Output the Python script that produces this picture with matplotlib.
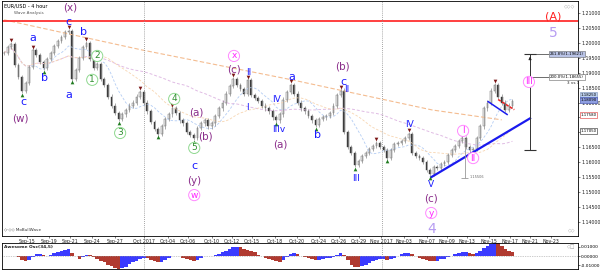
import numpy as np
import pandas as pd
import matplotlib
matplotlib.use('Agg')
import matplotlib.pyplot as plt

# EUR/USD 4 hour, closes sampled every 8 hours (Sep 13 - Nov 16, 2017)
closes = [
    1.1966, 1.1985, 1.1996, 1.1925, 1.1885, 1.1838, 1.1865, 1.1920, 1.1975, 1.1960,
    1.1935, 1.1915, 1.1945, 1.1965, 1.1990, 1.2005, 1.2020, 1.2035, 1.2040, 1.1880,
    1.1910, 1.1950, 1.1985, 1.2000, 1.1945, 1.1915, 1.1930, 1.1880, 1.1860, 1.1820,
    1.1790, 1.1765, 1.1745, 1.1760, 1.1775, 1.1790, 1.1800, 1.1820, 1.1835, 1.1800,
    1.1770, 1.1735, 1.1710, 1.1695, 1.1720, 1.1745, 1.1760, 1.1780, 1.1765, 1.1740,
    1.1730, 1.1700, 1.1690, 1.1680, 1.1715, 1.1730, 1.1740, 1.1720, 1.1730, 1.1755,
    1.1780, 1.1800, 1.1830, 1.1855, 1.1880, 1.1860, 1.1845, 1.1830, 1.1875, 1.1825,
    1.1815, 1.1805, 1.1790, 1.1780, 1.1770, 1.1750, 1.1740, 1.1760, 1.1810, 1.1835,
    1.1860, 1.1830, 1.1800, 1.1780, 1.1770, 1.1755, 1.1740, 1.1725, 1.1745, 1.1750,
    1.1755, 1.1765, 1.1790, 1.1825, 1.1840, 1.1700, 1.1650, 1.1630, 1.1590, 1.1605,
    1.1620, 1.1630, 1.1645, 1.1655, 1.1665, 1.1650, 1.1640, 1.1615, 1.1640, 1.1660,
    1.1665, 1.1670, 1.1680, 1.1695, 1.1630, 1.1620, 1.1615, 1.1600, 1.1575, 1.1560,
    1.1585, 1.1580, 1.1595, 1.1600, 1.1625, 1.1640, 1.1655, 1.1670, 1.1680, 1.1650,
    1.1640, 1.1645, 1.1680, 1.1720, 1.1780, 1.1800, 1.1840, 1.1860, 1.1820, 1.1800,
    1.1775, 1.1790, 1.1805,
]

date_labels = ['Sep-15', 'Sep-19', 'Sep-21', 'Sep-24', 'Sep-27', 'Oct 2017', 'Oct-04',
               'Oct-06', 'Oct-10', 'Oct-12', 'Oct-15', 'Oct-18', 'Oct-20', 'Oct-24',
               'Oct-26', 'Oct-29', 'Nov 2017', 'Nov-03', 'Nov-07', 'Nov-09', 'Nov-13',
               'Nov-15', 'Nov-17', 'Nov-21', 'Nov-23']
date_pos = [6.4, 12.6, 18.4, 24.6, 31.0, 39.1, 45.8, 51.4, 58.1, 63.7, 69.3, 75.7,
            81.8, 88.0, 93.6, 99.2, 105.3, 111.7, 118.2, 123.7, 129.3, 135.5, 141.3,
            146.9, 152.8]
month_lines = [39.1, 105.6]

peak_bars = [2, 8, 18, 23, 38, 47, 64, 68, 80, 94, 104, 113, 128, 137]
trough_bars = [5, 11, 19, 32, 43, 53, 76, 87, 98, 107, 119, 131]

resistance = 1.2073
slow_ma_x = [0, 38.5, 80.4, 119.6, 139]
slow_ma_y = [1.2077, 1.1976, 1.1876, 1.1775, 1.1742]

# wave labels: text, x, price, style
waves = [
    ('(x)', 18.4, 1.2117, 'pur'), ('c', 17.9, 1.2070, 'blu'), ('a', 8.1, 1.2016, 'blu'),
    ('b', 22.3, 1.2036, 'blu'), ('b', 11.2, 1.1882, 'blu'), ('c', 5.3, 1.1802, 'blu'),
    ('(w)', 4.5, 1.1748, 'pur'), ('a', 18.2, 1.1825, 'blu'),
    ('2', 26.0, 1.1956, 'grn'), ('1', 24.6, 1.1876, 'grn'), ('3', 32.4, 1.1698, 'grn'),
    ('4', 47.5, 1.1812, 'grn'), ('(a)', 53.6, 1.1765, 'pur'), ('(b)', 56.1, 1.1685, 'pur'),
    ('5', 53.1, 1.1648, 'grn'), ('c', 53.1, 1.1588, 'blu'), ('(y)', 53.1, 1.1537, 'pur'),
    ('w', 53.1, 1.1490, 'mag'), ('x', 64.2, 1.1956, 'mag'), ('(c)', 64.2, 1.1909, 'pur'),
    ('II', 68.2, 1.1902, 'blr'), ('I', 67.9, 1.1782, 'blr'), ('IV', 76.0, 1.1809, 'blr'),
    ('IIIv', 76.8, 1.1708, 'blr'), ('(a)', 77.1, 1.1658, 'pur'), ('a', 80.4, 1.1886, 'blu'),
    ('b', 87.4, 1.1691, 'blu'), ('(b)', 94.4, 1.1919, 'pur'), ('c', 94.7, 1.1869, 'blu'),
    ('II', 95.6, 1.1842, 'blr'), ('III', 98.3, 1.1547, 'blr'), ('IV', 113.1, 1.1725, 'blr'),
    ('V', 119.3, 1.1527, 'blr'), ('(c)', 119.3, 1.1477, 'pur'), ('y', 119.3, 1.1430, 'mag'),
    ('4', 119.3, 1.1377, 'lav'), ('I', 128.2, 1.1705, 'mag'), ('II', 131.0, 1.1614, 'mag'),
    ('III', 146.6, 1.1869, 'mag'), ('(A)', 153.4, 1.2087, 'red'), ('5', 153.4, 1.2033, 'lav'),
]

trend_x = [119.3, 146.9]
trend_y = [1.1550, 1.1747]
flag_x = [135.2, 140.5]
flag_y = [1.1803, 1.1760]
flag_red_x = [138.0, 142.5]
flag_red_y = [1.1810, 1.1776]

fib_x = 146.9
fib_top, fib_mid, fib_bot = 1.1963, 1.1886, 1.1641
fib_labels = ['261.8%(1.19621)', '200.0%(1.18655)']

price_tags = [(1.1825, '1.18250', '#bcd0ee', '#7a8fb5'), (1.1809, '1.18090', '#8e9ee0', '#3344aa'),
              (1.1758, '1.17580', 'white', '#dd3333'), (1.1705, '1.17050', 'white', '#222222')]
price_ticks = [1.140, 1.145, 1.150, 1.155, 1.160, 1.165, 1.170, 1.175, 1.180,
               1.185, 1.190, 1.195, 1.200, 1.205, 1.210]
covered_ticks = [1.170, 1.175]

# ---------------------------------------------------------------
fig = plt.figure(figsize=(6, 2.71), dpi=100)
ax = fig.add_axes([2 / 600, 1 - 236 / 271, 576 / 600, 235 / 271])
ax2 = fig.add_axes([2 / 600, 1 - 269 / 271, 576 / 600, 26 / 271])

c = np.array(closes)
o = np.r_[c[0], c[:-1]]
x = np.arange(len(c))
lo = np.minimum(o, c)
hi = np.maximum(o, c)
h = np.maximum(hi - lo, 0.00015)
up = c >= o

s = pd.Series(c)
ax.plot(x, s.rolling(8, min_periods=1).mean(), color='#b4cdf4', lw=0.6, ls=(0, (3, 2)))
ax.plot(x, s.rolling(45, min_periods=1).mean(), color='#e0bce4', lw=0.7, ls=(0, (3, 2)))
ax.plot(x, s.rolling(22, min_periods=1).mean(), color='#f8d6b2', lw=0.6, ls=(0, (3, 2)))
ax.plot(slow_ma_x, slow_ma_y, color='#f4bc90', lw=0.8, ls=(0, (4, 2)))

ax.vlines(x, lo - 0.0007, hi + 0.0007, color='#8a8a8a', lw=0.5)
ax.bar(x[up], h[up], bottom=lo[up], width=0.5, color='#f4f4f4', edgecolor='#555555', lw=0.3)
ax.bar(x[~up], h[~up], bottom=lo[~up], width=0.5, color='#3c3c3c', edgecolor='#3c3c3c', lw=0.3)

ax.scatter(x[peak_bars], hi[peak_bars] + 0.0012, marker='v', s=7, color='#7a1515', zorder=4, lw=0)
ax.scatter(x[trough_bars], lo[trough_bars] - 0.0012, marker='^', s=7, color='#1f7a1f', zorder=4, lw=0)

ax.axhline(resistance, color='#ff3030', lw=1.3)
ax.plot(trend_x, trend_y, color='#1a1aee', lw=1.6)
ax.plot(flag_x, flag_y, color='#1a1aee', lw=1.1)
ax.plot(flag_red_x, flag_red_y, color='#ee2222', lw=1.1, ls=(0, (2, 1)))

for m in month_lines:
    ax.axvline(m, color='#888888', lw=0.6, ls=(0, (1, 1.5)))
    ax2.axvline(m, color='#888888', lw=0.6, ls=(0, (1, 1.5)))

# fibonacci projection tool
ax.vlines(fib_x, fib_bot, fib_top, color='#333333', lw=0.7)
ax.hlines([fib_top, fib_mid], fib_x, 152.3, color='#555555', lw=0.6)
ax.hlines([fib_top, fib_bot], fib_x - 1.8, fib_x + 1.8, color='#333333', lw=0.8)
ax.annotate('', xy=(fib_x, fib_top), xytext=(fib_x, fib_top - 0.0025),
            arrowprops=dict(arrowstyle='-|>', color='#222222', lw=0.6, mutation_scale=4))
ax.text(152.4, fib_top, fib_labels[0], fontsize=2.8, va='center', ha='left',
        bbox=dict(boxstyle='square,pad=0.25', fc='#b9c3e6', ec='#666666', lw=0.4))
ax.text(152.4, fib_mid, fib_labels[1], fontsize=2.8, va='center', ha='left',
        bbox=dict(boxstyle='square,pad=0.25', fc='white', ec='#666666', lw=0.4))
ax.text(157.2, fib_mid - 0.0019, '3 vs 1', fontsize=3, va='center', ha='left', color='#222222')

# low reference mark near wave I
ax.vlines(128.6, 1.1548, 1.1680, color='#999999', lw=0.6)
ax.hlines(1.1548, 127.6, 129.6, color='#999999', lw=0.6)
ax.text(130.0, 1.1552, '1.15506', fontsize=2.5, color='#666666', va='center')

styles = {
    'blu': dict(color='#1a1aff', fontsize=8),
    'blr': dict(color='#1a1aff', fontsize=6.5),
    'pur': dict(color='#8a2d8a', fontsize=7.5),
    'lav': dict(color='#b69cf2', fontsize=10),
    'red': dict(color='#ff2020', fontsize=8),
    'grn': dict(color='#2f8f2f', fontsize=6.5,
                bbox=dict(boxstyle='circle,pad=0.12', fc='white', ec='#8fd88f', lw=0.7)),
    'mag': dict(color='#ff22ff', fontsize=6.5,
                bbox=dict(boxstyle='circle,pad=0.12', fc='white', ec='#ff88ff', lw=0.7)),
}
for txt, wx, wy, st in waves:
    ax.text(wx, wy, txt, ha='center', va='center', zorder=5, **styles[st])

for py, ptxt, fc, ec in price_tags:
    ax.text(1.004, py, ptxt, transform=ax.get_yaxis_transform(), fontsize=2.8,
            va='center', ha='left', clip_on=False,
            bbox=dict(boxstyle='square,pad=0.2', fc=fc, ec=ec, lw=0.4))

ax.text(0.004, 0.988, 'EUR/USD - 4 hour', transform=ax.transAxes, fontsize=3.6, va='top')
ax.text(0.02, 0.958, 'Wave Analysis', transform=ax.transAxes, fontsize=3, va='top', color='#555555')
ax.text(0.004, 0.018, '\u25c7\u00b7\u25c7\u25c7 MoBullWave', transform=ax.transAxes, fontsize=3,
        va='bottom', color='#333333')
ax.text(0.995, 0.99, '\u25c7\u25c7\u25c7', transform=ax.transAxes, fontsize=3.5, va='top',
        ha='right', color='#999999')
ax.text(0.995, 0.015, '\u25c7\u25c7', transform=ax.transAxes, fontsize=3.5, va='bottom',
        ha='right', color='#999999')

ax.set_xlim(-0.6, 160.3)
ax.set_ylim(1.1353, 1.2140)
ax.yaxis.tick_right()
ax.set_yticks(price_ticks)
ax.set_yticklabels(['' if t in covered_ticks else '%.5f' % t for t in price_ticks])
ax.set_xticks(date_pos)
ax.set_xticklabels(date_labels)
ax.tick_params(axis='both', labelsize=3.4, length=1.5, width=0.4, pad=0.8, colors='#222222')
for sp in ax.spines.values():
    sp.set_linewidth(0.6)

# awesome oscillator panel
ao = s.rolling(3, min_periods=1).mean() - s.rolling(17, min_periods=1).mean()
ao_col = np.where(ao.diff().fillna(0) >= 0, '#3b3bff', '#b03a30')
ax2.bar(x, ao, width=1.0, color=ao_col, lw=0)
ax2.axhline(0, color='#999999', lw=0.5, ls=(0, (1, 1.5)))
ax2.set_xlim(-0.6, 160.3)
ax2.set_ylim(-0.0144, 0.0144)
ax2.yaxis.tick_right()
ax2.set_yticks([-0.01, 0, 0.01])
ax2.set_yticklabels(['-0.01000', '0.00000', '0.01000'])
ax2.set_xticks([])
ax2.tick_params(axis='y', labelsize=3.2, length=1.5, width=0.4, pad=0.8)
ax2.text(0.004, 0.93, 'Awesome Osc(34,5)', transform=ax2.transAxes, fontsize=3.2,
         va='top', fontweight='bold', color='#222222')
ax2.text(0.995, 0.95, '\u25c7\u25a1', transform=ax2.transAxes, fontsize=3.5, va='top',
         ha='right', color='#999999')
for sp in ax2.spines.values():
    sp.set_linewidth(0.6)

fig.savefig('out.png', dpi=100)
